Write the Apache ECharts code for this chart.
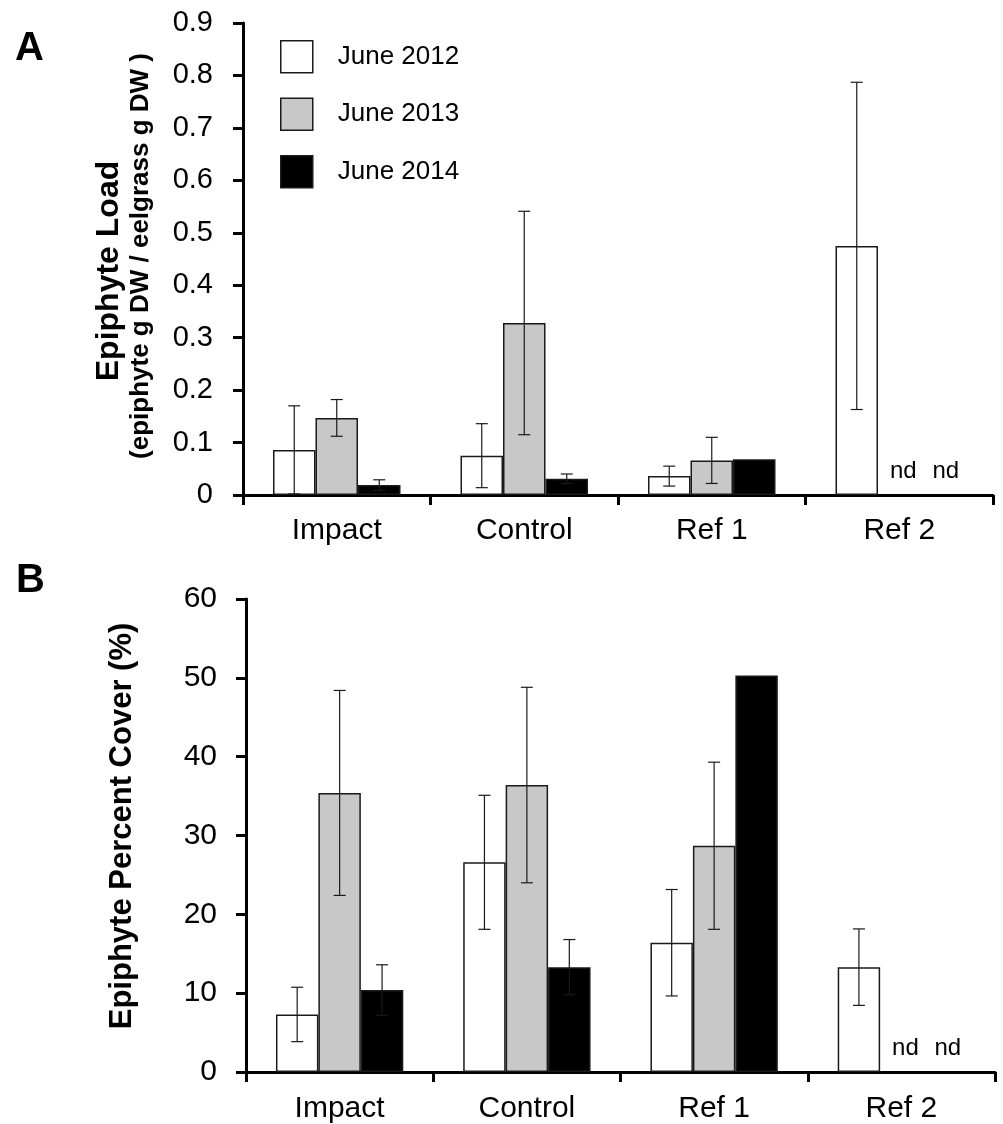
<!DOCTYPE html>
<html>
<head>
<meta charset="utf-8">
<script src="https://cdn.jsdelivr.net/npm/echarts@6/dist/echarts.min.js"></script>
<style>
html,body{margin:0;padding:0;background:#fff;}
#chart{width:1003px;height:1124px;}
</style>
</head>
<body>
<div id="chart"></div>
<script>
// ---- data ----
const categories = ['Impact', 'Control', 'Ref 1', 'Ref 2'];
const seriesNames = ['June 2012', 'June 2013', 'June 2014'];

// Panel A: Epiphyte load
const loadJune2012 = [0.086, 0.075, 0.036, 0.475];
const loadJune2013 = [0.147, 0.328, 0.066, null];
const loadJune2014 = [0.019, 0.031, 0.068, null];
const loadErr2012 = [0.084, 0.061, 0.019, 0.312];
const loadErr2013 = [0.035, 0.213, 0.044, null];
const loadErr2014 = [0.010, 0.009, null, null];
const loadTicks = [0, 0.1, 0.2, 0.3, 0.4, 0.5, 0.6, 0.7, 0.8, 0.9];

// Panel B: Epiphyte percent cover
const coverJune2012 = [7.3, 26.6, 16.4, 13.3];
const coverJune2013 = [35.4, 36.4, 28.7, null];
const coverJune2014 = [10.4, 13.3, 50.3, null];
const coverErr2012 = [3.45, 8.5, 6.75, 4.85];
const coverErr2013 = [13.0, 12.4, 10.6, null];
const coverErr2014 = [3.2, 3.5, null, null];
const coverTicks = [0, 10, 20, 30, 40, 50, 60];

// ---- styling ----
const FONT = 'Liberation Sans';
const fills = ['#ffffff', '#c8c8c8', '#000000'];
const CAT_GAP = 0.32;

function errData(vals, errs) {
  const out = [];
  vals.forEach((v, s) => {
    v.forEach((val, i) => {
      if (val != null && errs[s][i] != null) out.push([i, val, errs[s][i], s]);
    });
  });
  return out;
}
function ndData(vals) {
  const out = [];
  vals.forEach((v, s) => {
    v.forEach((val, i) => { if (val == null) out.push([i, 0, s]); });
  });
  return out;
}

function renderErr(params, api) {
  const cat = api.value(0), v = api.value(1), e = api.value(2), s = api.value(3);
  const band = api.size([1, 0])[0];
  const bw = band * (1 - CAT_GAP) / 3;
  const cx = api.coord([cat, v])[0] + (s - 1) * bw;
  const yT = api.coord([cat, v + e])[1];
  const yB = api.coord([cat, Math.max(v - e, 0)])[1];
  const h = 6;
  const st = { stroke: '#1a1a1a', lineWidth: 1.2 };
  return {
    type: 'group',
    children: [
      { type: 'line', shape: { x1: cx, y1: yT, x2: cx, y2: yB }, style: st },
      { type: 'line', shape: { x1: cx - h, y1: yT, x2: cx + h, y2: yT }, style: st },
      { type: 'line', shape: { x1: cx - h, y1: yB, x2: cx + h, y2: yB }, style: st }
    ]
  };
}
function renderNd(params, api) {
  const cat = api.value(0), s = api.value(2);
  const band = api.size([1, 0])[0];
  const bw = band * (1 - CAT_GAP) / 3;
  const p = api.coord([cat, 0]);
  return {
    type: 'text',
    style: {
      text: 'nd', x: p[0] + (s - 1) * bw + 4, y: p[1] - 12,
      align: 'center', verticalAlign: 'bottom',
      fontSize: 24, fontFamily: FONT, fill: '#000'
    }
  };
}

function barSeries(vals, gi) {
  return vals.map((v, s) => ({
    name: seriesNames[s], type: 'bar', xAxisIndex: gi, yAxisIndex: gi,
    data: v, barGap: '0%', barCategoryGap: (CAT_GAP * 100) + '%',
    itemStyle: { color: fills[s], borderColor: '#1a1a1a', borderWidth: 1.5 },
    emphasis: { disabled: true }
  }));
}

const axisLineStyle = { color: '#000', width: 3 };
function xAxisOpt(gi, margin) {
  return {
    type: 'category', gridIndex: gi, data: categories,
    axisLine: { show: true, lineStyle: axisLineStyle },
    axisTick: { show: true, length: 10, lineStyle: axisLineStyle },
    axisLabel: { fontSize: 30, fontFamily: FONT, color: '#000', margin: margin }
  };
}
function yAxisOpt(gi, ticks, fmt, margin, fs) {
  return {
    type: 'value', gridIndex: gi, min: ticks[0], max: ticks[ticks.length - 1],
    interval: ticks[1] - ticks[0],
    splitLine: { show: false },
    axisLine: { show: true, lineStyle: axisLineStyle },
    axisTick: { show: true, length: 10, lineStyle: axisLineStyle },
    axisLabel: { fontSize: fs, fontFamily: FONT, color: '#000', margin: margin, formatter: fmt }
  };
}

const loadVals = [loadJune2012, loadJune2013, loadJune2014];
const loadErrs = [loadErr2012, loadErr2013, loadErr2014];
const coverVals = [coverJune2012, coverJune2013, coverJune2014];
const coverErrs = [coverErr2012, coverErr2013, coverErr2014];

const option = {
  backgroundColor: '#fff',
  animation: false,
  grid: [
    { left: 243, top: 23, width: 750, height: 472 },
    { left: 246, top: 599, width: 749, height: 473 }
  ],
  xAxis: [xAxisOpt(0, 21), xAxisOpt(1, 22)],
  yAxis: [
    yAxisOpt(0, loadTicks, v => v === 0 ? '0' : v.toFixed(1), 30, 29),
    yAxisOpt(1, coverTicks, v => String(Math.round(v)), 29, 30)
  ],
  legend: {
    orient: 'vertical', left: 280, top: 40, padding: 0,
    itemWidth: 32, itemHeight: 32, itemGap: 24, icon: 'rect',
    selectedMode: false,
    textStyle: { fontSize: 26, fontFamily: FONT, color: '#000', padding: [0, 0, 0, 20] },
    data: seriesNames.map((n, s) => ({
      name: n, itemStyle: { color: fills[s], borderColor: '#1a1a1a', borderWidth: 1.5 }
    }))
  },
  graphic: [
    { type: 'text', left: 15, top: 29, style: { text: 'A', fontSize: 40, fontWeight: 'bold', fontFamily: FONT, fill: '#000' } },
    { type: 'text', left: 16, top: 561, style: { text: 'B', fontSize: 40, fontWeight: 'bold', fontFamily: FONT, fill: '#000' } },
    { type: 'text', x: 109, y: 271, rotation: Math.PI / 2,
      style: { text: 'Epiphyte Load', fontSize: 32, fontWeight: 'bold', fontFamily: FONT, fill: '#000', align: 'center', verticalAlign: 'middle' } },
    { type: 'text', x: 141, y: 256, rotation: Math.PI / 2,
      style: { text: '(epiphyte g DW / eelgrass g DW )', fontSize: 26, fontWeight: 'bold', fontFamily: FONT, fill: '#000', align: 'center', verticalAlign: 'middle' } },
    { type: 'text', x: 122, y: 826, rotation: Math.PI / 2,
      style: { text: 'Epiphyte Percent Cover (%)', fontSize: 31, fontWeight: 'bold', fontFamily: FONT, fill: '#000', align: 'center', verticalAlign: 'middle' } }
  ],
  series: [
    ...barSeries(loadVals, 0),
    ...barSeries(coverVals, 1),
    { type: 'custom', xAxisIndex: 0, yAxisIndex: 0, renderItem: renderErr, data: errData(loadVals, loadErrs), encode: { x: 0, y: 1 }, z: 5, silent: true },
    { type: 'custom', xAxisIndex: 1, yAxisIndex: 1, renderItem: renderErr, data: errData(coverVals, coverErrs), encode: { x: 0, y: 1 }, z: 5, silent: true },
    { type: 'custom', xAxisIndex: 0, yAxisIndex: 0, renderItem: renderNd, data: ndData(loadVals), encode: { x: 0, y: 1 }, z: 5, silent: true },
    { type: 'custom', xAxisIndex: 1, yAxisIndex: 1, renderItem: renderNd, data: ndData(coverVals), encode: { x: 0, y: 1 }, z: 5, silent: true }
  ]
};

const chart = echarts.init(document.getElementById('chart'), null, { renderer: 'canvas' });
chart.setOption(option);
</script>
</body>
</html>
